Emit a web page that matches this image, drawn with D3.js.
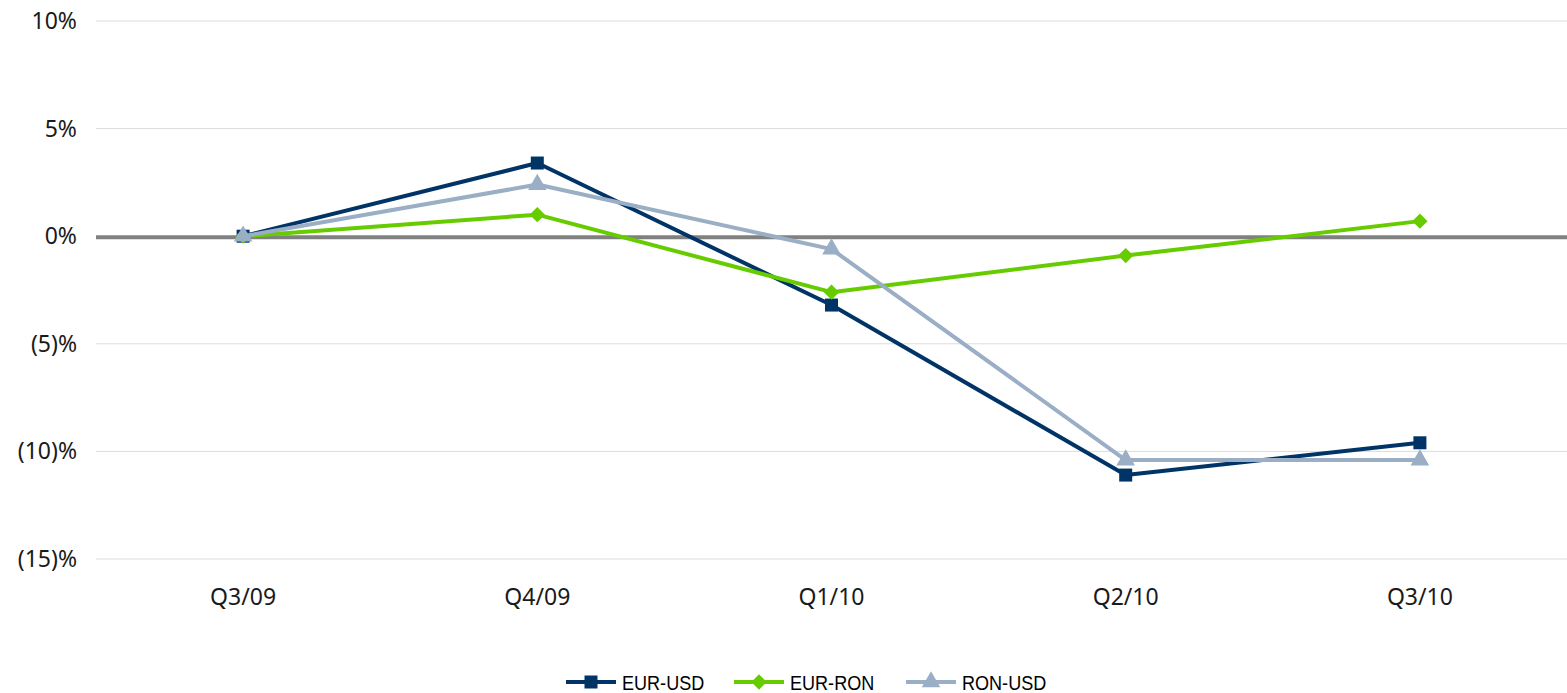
<!DOCTYPE html>
<html>
<head>
  <title>Exchange rate change</title>
  <style>
    body {
      margin: 0;
      padding: 0;
      background: white;
      font-family: "Noto Sans", Arial, sans-serif;
    }
    .tick-label {
      font-size: 23px;
      fill: #1a1a1a;
    }
    .legend text {
      font-family: "Liberation Sans", Arial, sans-serif;
      font-size: 21px;
      fill: #000;
    }
  </style>
</head>
<body>
  <div id="chart"></div>
  <script src="https://d3js.org/d3.v7.min.js"></script>
  <script>
    // chart data
    const categories = ["Q3/09", "Q4/09", "Q1/10", "Q2/10", "Q3/10"];
    const eurUsd = [0, 3.4, -3.2, -11.1, -9.6];
    const eurRon = [0, 1.0, -2.6, -0.9, 0.7];
    const ronUsd = [0, 2.4, -0.6, -10.4, -10.4];
    const yTicks = [10, 5, 0, -5, -10, -15];

    const series = [
      { name: "EUR-USD", values: eurUsd, color: "#003466", marker: "square" },
      { name: "EUR-RON", values: eurRon, color: "#66cc00", marker: "diamond" },
      { name: "RON-USD", values: ronUsd, color: "#9aaec5", marker: "triangle" }
    ];

    const width = 1567, height = 693;
    const margin = { top: 21, right: 0, bottom: 134, left: 96 };

    const svg = d3.select("#chart")
      .append("svg")
      .attr("width", width)
      .attr("height", height);

    // x scale: one band per quarter
    const x = d3.scaleBand()
      .domain(categories)
      .range([margin.left, width - margin.right]);

    const y = d3.scaleLinear()
      .domain([-15, 10])
      .range([height - margin.bottom, margin.top]);

    // grid lines
    svg.append("g")
      .selectAll("line")
      .data(yTicks.filter(d => d !== 0))
      .enter()
      .append("line")
      .attr("x1", margin.left)
      .attr("x2", width - margin.right)
      .attr("y1", d => y(d))
      .attr("y2", d => y(d))
      .attr("stroke", "#dcdcdc")
      .attr("stroke-width", 1);

    // y labels
    const fmt = d => d < 0 ? `(${-d})%` : `${d}%`;
    svg.append("g")
      .selectAll("text")
      .data(yTicks)
      .enter()
      .append("text")
      .attr("class", "tick-label")
      .attr("x", 77)
      .attr("y", d => y(d))
      .attr("dy", "0.35em")
      .attr("text-anchor", "end")
      .text(fmt);

    // x labels
    svg.append("g")
      .selectAll("text")
      .data(categories)
      .enter()
      .append("text")
      .attr("class", "tick-label")
      .attr("x", d => x(d) + x.bandwidth() / 2)
      .attr("y", 597)
      .attr("dy", "0.35em")
      .attr("text-anchor", "middle")
      .text(d => d);

    // zero line
    svg.append("line")
      .attr("x1", margin.left)
      .attr("x2", width - margin.right)
      .attr("y1", y(0) + 1)
      .attr("y2", y(0) + 1)
      .attr("stroke", "#808080")
      .attr("stroke-width", 4);

    const symbols = {
      square: d3.symbol().type(d3.symbolSquare).size(169),
      diamond: d3.symbol().type(d3.symbolDiamond2).size(150),
      triangle: d3.symbol().type(d3.symbolTriangle).size(150)
    };

    const line = d3.line()
      .x((d, i) => x(categories[i]) + x.bandwidth() / 2)
      .y(d => y(d));

    series.forEach(s => {
      const g = svg.append("g");
      g.append("path")
        .datum(s.values)
        .attr("fill", "none")
        .attr("stroke", s.color)
        .attr("stroke-width", 4)
        .attr("stroke-linejoin", "round")
        .attr("d", line);

      g.selectAll("path.mk")
        .data(s.values)
        .enter()
        .append("path")
        .attr("class", "mk")
        .attr("transform", (d, i) => `translate(${x(categories[i]) + x.bandwidth() / 2},${y(d)})`)
        .attr("d", symbols[s.marker])
        .attr("fill", s.color);
    });

    // legend
    const legendX = [566, 734, 906];
    const legend = svg.selectAll(".legend")
      .data(series)
      .enter()
      .append("g")
      .attr("class", "legend")
      .attr("transform", (d, i) => `translate(${legendX[i]},682)`);

    legend.append("line")
      .attr("x1", 0)
      .attr("x2", 50)
      .attr("stroke", d => d.color)
      .attr("stroke-width", 4);

    legend.append("path")
      .attr("transform", "translate(25,0)")
      .attr("d", d => symbols[d.marker]())
      .attr("fill", d => d.color);

    // text squeezed horizontally to match the narrow legend font
    legend.append("text")
      .attr("transform", "translate(56,0) scale(0.86,1)")
      .attr("dy", "0.36em")
      .text(d => d.name);
  </script>
</body>
</html>
